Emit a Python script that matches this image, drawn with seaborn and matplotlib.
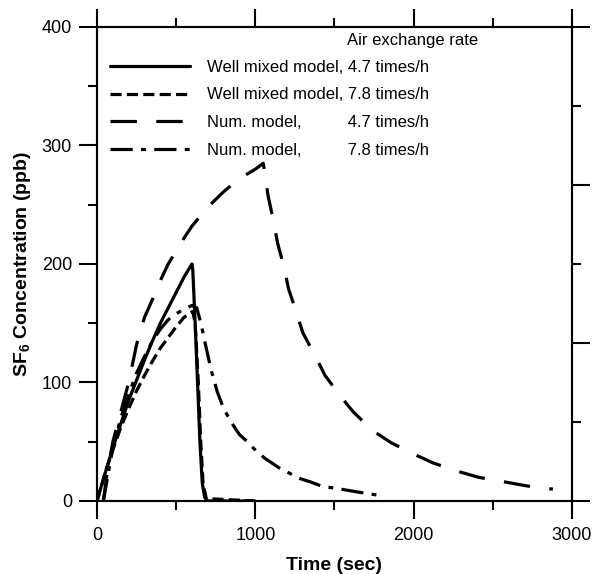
import numpy as np
import pandas as pd
import matplotlib
matplotlib.use("Agg")
import matplotlib.pyplot as plt
from matplotlib.lines import Line2D
from matplotlib.ticker import MultipleLocator
import seaborn as sns

sns.set_theme(style="white")
plt.rcParams['font.family'] = ['Liberation Sans', 'DejaVu Sans']
plt.rcParams['mathtext.fontset'] = 'custom'
plt.rcParams['mathtext.rm'] = 'Liberation Sans'
plt.rcParams['mathtext.bf'] = 'Liberation Sans:bold'
plt.rcParams['lines.scale_dashes'] = False
for k in ['text.color', 'axes.labelcolor', 'xtick.color', 'ytick.color', 'axes.edgecolor']:
    plt.rcParams[k] = 'black'

# ---- data ----
wm47_t = [0, 50, 100, 150, 200, 250, 300, 350, 400, 450, 500, 550, 600,
          605, 620, 635, 650, 665, 680, 700, 1000]
wm47_c = [0, 23, 45, 65, 85, 102, 119, 135, 150, 163, 176, 189, 200,
          195, 150, 100, 50, 15, 3, 0, 0]

wm78_t = [0, 50, 100, 150, 200, 250, 300, 350, 400, 450, 500, 550, 605,
          620, 640, 655, 670, 690, 1000]
wm78_c = [0, 23, 43, 62, 78, 93, 106, 118, 129, 138, 147, 155, 160,
          150, 100, 50, 15, 2, 0]

num47_t = [40, 60, 100, 150, 200, 250, 300, 350, 400, 450, 500, 550, 600,
           650, 700, 800, 900, 1000, 1050, 1080, 1115, 1140, 1180, 1210,
           1260, 1300, 1380, 1440, 1540, 1620, 1745, 1860, 2010, 2125,
           2280, 2410, 2580, 2715, 2880]
num47_c = [0, 20, 50, 75, 100, 132, 155, 170, 186, 200, 211, 222, 232,
           240, 248, 261, 272, 280, 285, 258, 236, 218, 198, 179,
           159, 142, 122, 106, 88, 75, 59, 49, 39, 32,
           25, 20, 16, 12.7, 10]

num78_t = [40, 60, 100, 150, 200, 250, 300, 350, 400, 450, 500, 550, 600,
           630, 660, 680, 720, 760, 800, 850, 900, 950, 1000, 1060, 1150,
           1280, 1350, 1420, 1540, 1650, 1770]
num78_c = [0, 15, 45, 70, 90, 108, 122, 135, 145, 153, 158, 162, 165,
           163, 148, 135, 111, 92, 78, 66, 56, 50, 43, 36, 28,
           19, 16, 12.5, 10, 7.5, 5]

labels = ["Well mixed model, 4.7 times/h",
          "Well mixed model, 7.8 times/h",
          "Num. model,          4.7 times/h",
          "Num. model,          7.8 times/h"]
legend_title = "Air exchange rate"
x_ticks = [0, 1000, 2000, 3000]
y_ticks = [0, 100, 200, 300, 400]

series = [(wm47_t, wm47_c), (wm78_t, wm78_c), (num47_t, num47_c), (num78_t, num78_c)]
styles = ['-', (0, (8, 3.8)), (0, (19, 14)), (0, (16, 6, 3.5, 6))]

fig = plt.figure(figsize=(5.97, 5.74), dpi=100)
ax = fig.add_axes([0.1625, 0.1272, 0.7955, 0.8258])

handles = []
for (t, c), ls, lab in zip(series, styles, labels):
    df = pd.DataFrame({"t": t, "c": c})
    sns.lineplot(data=df, x="t", y="c", ax=ax, color="black", lw=2.3,
                 estimator=None, sort=False, legend=False)
    ax.lines[-1].set_linestyle(ls)
    ax.lines[-1].set_solid_capstyle('butt')
    ax.lines[-1].set_dash_capstyle('butt')
    handles.append(Line2D([], [], color='black', lw=2.3, linestyle=ls, label=lab))

ax.set_xlim(0, 3000)
ax.set_ylim(0, 400)
ax.set_xticks(x_ticks)
ax.set_yticks(y_ticks)
ax.xaxis.set_minor_locator(MultipleLocator(500))
ax.yaxis.set_minor_locator(MultipleLocator(50))
ax.tick_params(which='both', direction='out', color='black', width=1.5,
               top=True, bottom=True, left=True, right=False,
               labeltop=False, labelsize=13, labelcolor='black')
ax.tick_params(which='major', length=13)
ax.tick_params(which='minor', length=6.5)
ax.tick_params(axis='x', which='major', pad=6)
ax.tick_params(axis='y', which='major', pad=5)
for s in ax.spines.values():
    s.set_color('black')
    s.set_linewidth(1.5)

ax.set_xlabel("Time (sec)", fontsize=14, fontweight='bold', labelpad=9, color='black')
ax.set_ylabel(r"SF$_\mathbf{6}$ Concentration (ppb)", fontsize=14,
              fontweight='bold', labelpad=6, color='black')

ax2 = ax.twinx()
ax2.set_ylim(0, 3)
ax2.set_yticks([0, 1, 2, 3])
ax2.yaxis.set_minor_locator(MultipleLocator(0.5))
ax2.tick_params(which='both', direction='out', color='black', width=1.5,
                right=True, labelright=False)
ax2.tick_params(which='major', length=13)
ax2.tick_params(which='minor', length=6.5)
for s in ax2.spines.values():
    s.set_color('black')
    s.set_linewidth(1.5)
ax2.grid(False)

leg = ax.legend(handles=handles, loc='upper left', bbox_to_anchor=(0.027, 0.931),
                frameon=False, fontsize=12, borderpad=0, borderaxespad=0,
                handlelength=4.8, handletextpad=1.0, labelspacing=0.76)
for txt in leg.get_texts():
    txt.set_color('black')
ax.text(0.526, 0.972, legend_title, transform=ax.transAxes, fontsize=12,
        ha='left', va='center', color='black')

fig.savefig("out.png", dpi=100)
